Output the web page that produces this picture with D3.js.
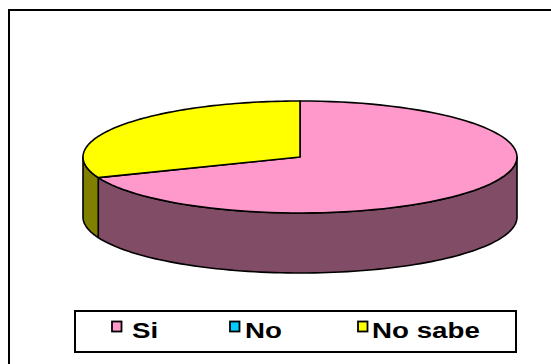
<!DOCTYPE html>
<html>
<head>
<meta charset="utf-8">
<script src="https://cdn.jsdelivr.net/npm/d3@7/dist/d3.min.js"></script>
<style>
  html, body { margin: 0; padding: 0; background: #fff; }
  svg { display: block; }
</style>
</head>
<body>
<svg id="chart" width="551" height="364"></svg>
<script>
// Survey answers, share of responses
const categories = ["Si", "No", "No sabe"];
const values = [69, 0, 31];
const topColors = ["#FF99CC", "#00CCFF", "#FFFF00"];
const sideColors = ["#804C66", "#006680", "#808000"];

const svg = d3.select("#chart");

// Outer chart frame
svg.append("rect")
  .attr("x", 9).attr("y", 10)
  .attr("width", 600).attr("height", 400)
  .attr("fill", "#fff").attr("stroke", "#000").attr("stroke-width", 2);

// Pie geometry (tilted disc)
const cx = 300, cy = 157, rx = 217, ry = 56, depth = 60;

// Angles run clockwise from 12 o'clock, in source order
const pie = d3.pie().sort(null).startAngle(0).endAngle(2 * Math.PI)(values);

// map an angle onto the top ellipse
const px = a => cx + rx * Math.sin(a);
const py = a => cy - ry * Math.cos(a);

const line = d3.line();
const sweep = (a0, a1) => d3.range(0, 1.0001, 1 / 90).map(t => a0 + (a1 - a0) * t);

function topPath(d) {
  if (d.endAngle - d.startAngle <= 0) return null;
  const pts = [[cx, cy]].concat(sweep(d.startAngle, d.endAngle).map(a => [px(a), py(a)]));
  return line(pts) + "Z";
}

// front wall: only the part facing the viewer (between 3 and 9 o'clock)
function sidePath(d) {
  const a0 = Math.max(d.startAngle, Math.PI / 2);
  const a1 = Math.min(d.endAngle, 3 * Math.PI / 2);
  if (a1 <= a0) return null;
  const upper = sweep(a0, a1).map(a => [px(a), py(a)]);
  const lower = sweep(a1, a0).map(a => [px(a), py(a) + depth]);
  return line(upper.concat(lower)) + "Z";
}

const g = svg.append("g");

g.selectAll("path.side")
  .data(pie.filter(d => sidePath(d)))
  .join("path")
  .attr("class", "side")
  .attr("d", sidePath)
  .attr("fill", d => sideColors[d.index])
  .attr("stroke", "#000").attr("stroke-width", 1.6)
  .attr("stroke-linejoin", "round");

g.selectAll("path.top")
  .data(pie.filter(d => topPath(d)))
  .join("path")
  .attr("class", "top")
  .attr("d", topPath)
  .attr("fill", d => topColors[d.index])
  .attr("stroke", "#000").attr("stroke-width", 1.6)
  .attr("stroke-linejoin", "round");

// Legend
const legend = svg.append("g");
legend.append("rect")
  .attr("x", 75).attr("y", 311)
  .attr("width", 441).attr("height", 41)
  .attr("fill", "#fff").attr("stroke", "#000").attr("stroke-width", 2);

const swatchX = { "Si": 112, "No": 230, "No sabe": 358 };
const labelX = { "Si": 132, "No": 245, "No sabe": 372 };

const item = legend.selectAll("g.item")
  .data(categories)
  .join("g")
  .attr("class", "item");

item.append("rect")
  .attr("x", d => swatchX[d]).attr("y", 321.5)
  .attr("width", 9.5).attr("height", 10)
  .attr("fill", (d, i) => topColors[i])
  .attr("stroke", "#000").attr("stroke-width", 1.8);

// labels are drawn slightly widened, like the stretched chart text
item.append("text")
  .attr("transform", d => `translate(${labelX[d]},338) scale(1.26,1)`)
  .attr("font-family", "Liberation Sans, Arial, sans-serif")
  .attr("font-weight", "bold")
  .attr("font-size", 22)
  .attr("fill", "#000")
  .text(d => d);
</script>
</body>
</html>
